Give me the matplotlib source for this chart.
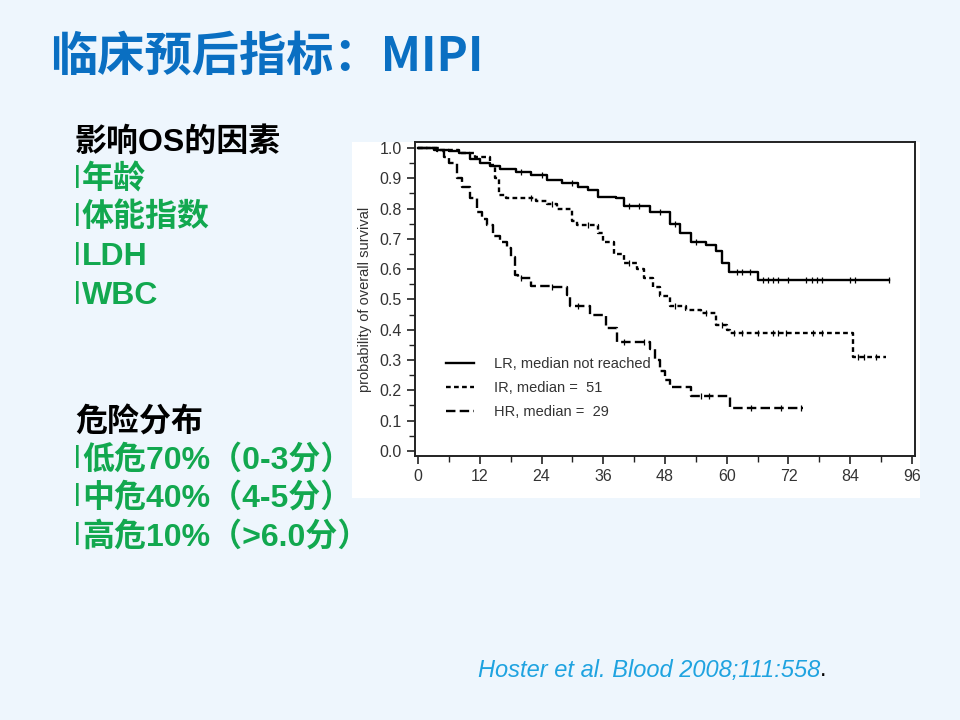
import matplotlib
matplotlib.use("Agg")
import matplotlib.pyplot as plt
import numpy as np
from matplotlib.patches import Rectangle

# Kaplan-Meier curves (months, survival)
lr_t = [0, 3, 6, 8, 10, 12, 14, 16, 19, 22, 25, 28, 31, 33, 35, 38.5, 40, 45, 49, 51, 53, 56, 58, 59, 60.5, 66, 91.5]
lr_s = [1.0, 0.995, 0.99, 0.985, 0.965, 0.95, 0.94, 0.93, 0.92, 0.91, 0.895, 0.885, 0.87, 0.86, 0.84, 0.835, 0.81,
        0.79, 0.75, 0.72, 0.69, 0.68, 0.66, 0.62, 0.59, 0.565, 0.565]
ir_t = [0, 4, 8, 11, 14, 15, 15.8, 17, 23, 25, 27, 30, 30.8, 35, 36, 38, 40, 42.5, 44, 45.7, 47, 49, 52, 55, 58, 60,
        60.6, 84.6, 91]
ir_s = [1.0, 0.995, 0.985, 0.97, 0.945, 0.90, 0.845, 0.835, 0.825, 0.815, 0.80, 0.76, 0.745, 0.72, 0.69, 0.65, 0.62,
        0.60, 0.57, 0.54, 0.51, 0.48, 0.465, 0.455, 0.415, 0.40, 0.39, 0.31, 0.31]
hr_t = [0, 3.6, 5, 6, 7.5, 8.5, 10, 11.5, 12.5, 13.4, 14.6, 16, 17.3, 18, 18.8, 19.5, 22, 25.6, 29, 29.5, 33.4, 36.5,
        38.6, 45, 46, 47, 48, 49, 53, 60.6, 74.8]
hr_s = [1.0, 0.99, 0.97, 0.95, 0.90, 0.87, 0.835, 0.79, 0.765, 0.745, 0.71, 0.69, 0.67, 0.64, 0.58, 0.57, 0.545, 0.54,
        0.515, 0.48, 0.45, 0.405, 0.36, 0.335, 0.30, 0.265, 0.234, 0.21, 0.18, 0.14, 0.14]

# censoring marks (months)
lr_cens = [20, 24, 30, 41, 43, 47, 50, 54, 62, 63, 64.5, 67, 68, 69, 70, 72, 75.5, 76.5, 77.5, 78.5, 84, 85, 91.5]
ir_cens = [22, 26, 33, 41, 50, 56, 59, 61.5, 63, 66, 69, 70, 71.5, 76.7, 78.5, 85.5, 86.7, 89]
hr_cens = [20, 26, 31, 40, 44, 55, 56.5, 64.7, 70.5, 74.5]

labels = ["LR, median not reached", "IR, median =  51", "HR, median =  29"]
styles = ["-", (0, (2, 1.4)), (0, (4, 1.8))]

xticks = np.arange(0, 97, 12)
yticks = np.arange(0, 1.01, 0.1)

factors_head = "影响OS的因素"
factors = ["年龄", "体能指数", "LDH", "WBC"]
risk_head = "危险分布"
risk = ["低危70%（0-3分）", "中危40%（4-5分）", "高危10%（>6.0分）"]

bg = "#EEF6FD"
green = "#12A84F"
fams = ["Liberation Sans", "Noto Sans CJK SC", "DejaVu Sans"]

fig = plt.figure(figsize=(9.6, 7.2), dpi=100, facecolor=bg)

# white picture area behind the chart
fig.patches.append(Rectangle((352 / 960, 1 - 498 / 720), 568 / 960, 356 / 720,
                             transform=fig.transFigure, facecolor="white", edgecolor="none", zorder=0))

fig.text(50 / 960, 1 - 57 / 720, "临床预后指标：MIPI", color="#0A6FC2", fontsize=34, fontweight="bold",
         family=["Noto Sans CJK SC", "DejaVu Sans"], va="center", ha="left")

ys1 = [142, 180, 218, 257, 296]
fig.text(75 / 960, 1 - ys1[0] / 720, factors_head, fontsize=23, fontweight="bold", family=fams,
         va="center", color="black")
for y, s in zip(ys1[1:], factors):
    fig.text(74 / 960, 1 - y / 720, "l", fontsize=22, family=fams, va="center", color=green)
    fig.text(82 / 960, 1 - y / 720, s, fontsize=23, fontweight="bold", family=fams, va="center", color=green)

ys2 = [423, 460, 498, 537]
fig.text(75 / 960, 1 - ys2[0] / 720, risk_head, fontsize=23, fontweight="bold", family=fams,
         va="center", color="black")
for y, s in zip(ys2[1:], risk):
    fig.text(74 / 960, 1 - y / 720, "l", fontsize=22, family=fams, va="center", color=green)
    fig.text(82 / 960, 1 - y / 720, s, fontsize=23, fontweight="bold", family=fams, va="center", color=green)

t1 = fig.text(478 / 960, 1 - 670 / 720, "Hoster et al. Blood 2008;111:558", fontsize=17, style="italic",
              family="Liberation Sans", color="#1FA3E0", va="center")
fig.canvas.draw()
bb = t1.get_window_extent()
fig.text(bb.x1 / 960, 1 - 670 / 720, ".", fontsize=17, family="Liberation Sans", color="black", va="center")

ax = fig.add_axes([415 / 960, 1 - 456 / 720, 500 / 960, 314 / 720])
ax.set_facecolor("white")
ax.set_zorder(2)

for t, s, cens, ls, lab in zip([lr_t, ir_t, hr_t], [lr_s, ir_s, hr_s], [lr_cens, ir_cens, hr_cens], styles, labels):
    ax.step(t, s, where="post", color="black", linestyle=ls, linewidth=1.7, label=lab)
    ta = np.array(t)
    sa = np.array(s)
    idx = np.searchsorted(ta, cens, side="right") - 1
    ax.plot(cens, sa[idx], linestyle="none", marker="|", markersize=5, color="black", markeredgewidth=0.9)

ax.set_xlim(-0.6, 96.6)
ax.set_ylim(-0.017, 1.02)
ax.set_xticks(xticks)
ax.set_xticks(np.arange(6, 97, 12), minor=True)
ax.set_yticks(yticks)
ax.set_yticklabels([f"{v:.1f}" for v in yticks])
ax.set_yticks(np.arange(0.05, 1.0, 0.1), minor=True)
ax.tick_params(which="major", length=6, width=1.2, color="#222222", labelsize=11.5, labelcolor="#333333")
ax.tick_params(which="minor", length=4, width=1.0, color="#222222")
for lab in ax.get_xticklabels() + ax.get_yticklabels():
    lab.set_family("Liberation Sans")
for sp in ax.spines.values():
    sp.set_linewidth(1.4)
    sp.set_color("#222222")
ax.set_ylabel("probability of overall survival", fontsize=10.5, family="Liberation Sans", color="#333333",
              labelpad=5)

leg = ax.legend(loc="upper left", bbox_to_anchor=(0.05, 0.335), frameon=False, handlelength=1.9,
                handletextpad=1.4, labelspacing=0.7, borderaxespad=0,
                prop={"family": "Liberation Sans", "size": 10.5})
for txt in leg.get_texts():
    txt.set_color("#333333")

fig.savefig("out.png", dpi=100, facecolor=bg)
